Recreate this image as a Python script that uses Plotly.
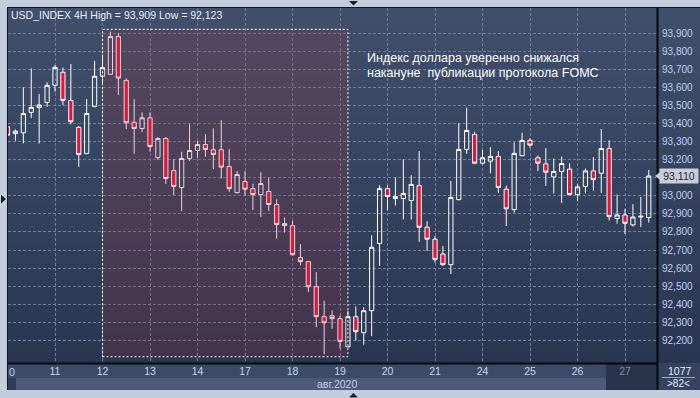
import plotly.graph_objects as go

# ---------------- data ----------------
day_labels = ["10", "11", "12", "13", "14", "17", "18", "19", "20", "21", "24", "25", "26", "27"]
bars_per_day = [6, 6, 6, 6, 6, 6, 6, 6, 6, 6, 6, 6, 6, 4]

open_ = [93.382, 93.345, 93.349, 93.462, 93.490, 93.517, 93.612, 93.684, 93.528, 93.379,
         93.235, 93.495, 93.662, 93.673, 93.882, 93.639, 93.407, 93.373, 93.432, 93.212,
         93.318, 93.140, 93.046, 93.207, 93.251, 93.284, 93.255, 93.255, 93.162, 93.018,
         93.079, 93.040, 93.007, 93.024, 92.952, 92.846, 92.835, 92.658, 92.636, 92.497,
         92.331, 92.336, 92.320, 92.164, 92.331, 92.242, 92.364, 92.736, 93.040, 92.996,
         92.985, 92.974, 93.057, 92.826, 92.760, 92.678, 92.619, 92.979, 93.257, 93.340,
         93.181, 93.192, 93.218, 93.037, 92.924, 93.222, 93.307, 93.211, 93.177, 93.105,
         93.135, 93.148, 93.007, 93.052, 93.138, 93.125, 93.262, 92.874, 92.894, 92.839,
         92.883, 92.880]
high = [93.392, 93.368, 93.601, 93.706, 93.564, 93.628, 93.724, 93.711, 93.730, 93.386,
        93.536, 93.747, 93.780, 93.909, 93.900, 93.650, 93.536, 93.462, 93.462, 93.325,
        93.325, 93.203, 93.244, 93.397, 93.303, 93.342, 93.373, 93.419, 93.259, 93.137,
        93.137, 93.068, 93.131, 93.101, 92.981, 92.880, 92.861, 92.732, 92.640, 92.577,
        92.419, 92.366, 92.338, 92.364, 92.388, 92.384, 92.782, 93.059, 93.059, 93.101,
        93.201, 93.114, 93.248, 92.859, 92.778, 92.721, 93.083, 93.401, 93.488, 93.355,
        93.253, 93.270, 93.248, 93.057, 93.297, 93.349, 93.318, 93.223, 93.264, 93.207,
        93.218, 93.181, 93.066, 93.151, 93.214, 93.370, 93.307, 93.007, 92.928, 92.954,
        92.994, 93.144]
low = [93.330, 93.305, 93.290, 93.432, 93.290, 93.493, 93.577, 93.503, 93.397, 93.161,
       93.229, 93.490, 93.613, 93.670, 93.558, 93.370, 93.233, 93.355, 93.244, 93.200,
       93.065, 93.004, 92.915, 93.194, 93.211, 93.216, 93.148, 93.096, 93.022, 93.013,
       93.000, 92.920, 92.883, 92.917, 92.763, 92.797, 92.671, 92.615, 92.467, 92.273,
       92.123, 92.264, 92.153, 92.160, 92.199, 92.175, 92.223, 92.612, 92.920, 92.946,
       92.869, 92.869, 92.745, 92.695, 92.630, 92.612, 92.567, 92.975, 93.233, 93.175,
       93.174, 93.125, 93.016, 92.833, 92.907, 93.220, 93.266, 93.138, 93.055, 93.013,
       92.961, 93.004, 92.970, 93.013, 93.028, 93.016, 92.863, 92.846, 92.789, 92.830,
       92.828, 92.852]
close = [93.336, 93.358, 93.456, 93.490, 93.503, 93.612, 93.711, 93.528, 93.410, 93.229,
         93.456, 93.662, 93.711, 93.882, 93.652, 93.405, 93.373, 93.432, 93.273, 93.318,
         93.096, 93.052, 93.207, 93.251, 93.284, 93.257, 93.229, 93.159, 93.040, 93.118,
         93.037, 93.007, 93.068, 92.952, 92.841, 92.835, 92.674, 92.636, 92.497, 92.331,
         92.297, 92.320, 92.194, 92.331, 92.248, 92.364, 92.715, 93.040, 92.996, 92.985,
         93.013, 93.063, 92.826, 92.760, 92.647, 92.619, 92.991, 93.257, 93.362, 93.181,
         93.211, 93.218, 93.046, 92.928, 93.235, 93.307, 93.281, 93.181, 93.131, 93.135,
         93.179, 93.007, 93.050, 93.138, 93.090, 93.262, 92.885, 92.894, 92.848, 92.883,
         92.887, 93.110]

price_ticks = [round(92.2 + 0.1 * k, 1) for k in range(18)]
last_price = close[-1]
# the tick label hidden behind the last-price marker is left blank
price_labels = ["" if abs(v - last_price) < 0.03 else "{:.3f}".format(v).replace(".", ",")
                for v in price_ticks]
last_label = "{:.3f}".format(last_price).replace(".", ",")
header = "USD_INDEX 4H High = 93,909 Low = 92,123"
note_1 = "Индекс доллара уверенно снижался"
note_2 = "накануне \u00a0публикации протокола FOMC"
month_label = "авг.2020"
bars_total = "1077"
bars_visible = ">82<"
zone_start, zone_end = 12, 43
zone_low, zone_high = 92.109, 93.922

# ---------------- layout helpers ----------------
W, H = 700, 398
PL, PR, PT, PB = 8, 657, 8, 363


def px(v):
    return (v - PL) / (PR - PL)


def py(v):
    return (PB - v) / (PB - PT)


xs = list(range(len(open_)))
day_start = []
acc = 0
for n in bars_per_day:
    day_start.append(acc)
    acc += n

tick_vals = day_start[1:]
tick_text = day_labels[1:-1] + ["<span style='color:#7d8ba3'>" + day_labels[-1] + "</span>"]

fig = go.Figure()
fig.add_trace(go.Candlestick(
    x=xs, open=open_, high=high, low=low, close=close,
    increasing=dict(line=dict(color="#ffffff", width=1), fillcolor="rgba(0,0,0,0)"),
    decreasing=dict(line=dict(color="#ffffff", width=1), fillcolor="#e5143c"),
    whiskerwidth=0, hoverinfo="skip", showlegend=False,
))

shapes = []
# dark base
shapes.append(dict(type="rect", xref="paper", yref="paper", x0=px(7), x1=px(700), y0=py(390), y1=py(7),
                   fillcolor="#33425e", line=dict(width=0), layer="below"))
# gradient background
n = 36
top_c = (64, 80, 108)
bot_c = (40, 54, 81)
for k in range(n):
    t = (k + 0.5) / n
    c = tuple(int(round(top_c[j] + (bot_c[j] - top_c[j]) * t)) for j in range(3))
    y0 = PT + (PB - PT) * k / n
    y1 = PT + (PB - PT) * (k + 1) / n
    shapes.append(dict(type="rect", xref="paper", yref="paper", x0=px(8), x1=px(700),
                       y0=py(y1) - 0.002, y1=py(y0), fillcolor="rgb(%d,%d,%d)" % c,
                       line=dict(width=0), layer="below"))
# x-axis strips
shapes.append(dict(type="rect", xref="paper", yref="paper", x0=px(8), x1=px(657), y0=py(378), y1=py(363),
                   fillcolor="#3b4a67", line=dict(width=0), layer="below"))
shapes.append(dict(type="rect", xref="paper", yref="paper", x0=px(8), x1=px(657), y0=py(390), y1=py(378),
                   fillcolor="#2f3d58", line=dict(width=0), layer="below"))
shapes.append(dict(type="rect", xref="paper", yref="paper", x0=px(16), x1=px(606), y0=py(390), y1=py(378),
                   fillcolor="#4c5b77", line=dict(width=0), layer="below"))
shapes.append(dict(type="rect", xref="paper", yref="paper", x0=px(606), x1=px(657), y0=py(390), y1=py(364),
                   fillcolor="#28344c", line=dict(width=0), layer="below"))
shapes.append(dict(type="rect", xref="paper", yref="paper", x0=px(657), x1=px(700), y0=py(390), y1=py(363),
                   fillcolor="#34435f", line=dict(width=0), layer="below"))
# separator in bottom-right box
shapes.append(dict(type="line", xref="paper", yref="paper", x0=px(662), x1=px(695), y0=py(377.5), y1=py(377.5),
                   line=dict(color="#9aa8c0", width=1), layer="above"))
# frame lines
shapes.append(dict(type="line", xref="paper", yref="paper", x0=px(7.5), x1=px(700), y0=py(7.5), y1=py(7.5),
                   line=dict(color="#0d1420", width=1), layer="above"))
shapes.append(dict(type="line", xref="paper", yref="paper", x0=px(7.5), x1=px(7.5), y0=py(390), y1=py(7.5),
                   line=dict(color="#0d1420", width=1), layer="above"))
shapes.append(dict(type="line", xref="paper", yref="paper", x0=px(8), x1=px(658), y0=py(363.5), y1=py(363.5),
                   line=dict(color="#05080d", width=2), layer="above"))
shapes.append(dict(type="line", xref="paper", yref="paper", x0=px(657.5), x1=px(657.5), y0=py(390), y1=py(8),
                   line=dict(color="#05080d", width=2), layer="above"))
# frame triangles
shapes.append(dict(type="path", xref="paper", yref="paper",
                   path="M %f %f L %f %f L %f %f Z" % (px(349), py(1), px(358), py(1), px(353.5), py(5.5)),
                   fillcolor="#141c2a", line=dict(width=0), layer="above"))
shapes.append(dict(type="path", xref="paper", yref="paper",
                   path="M %f %f L %f %f L %f %f Z" % (px(349), py(397.5), px(358), py(397.5), px(353.5), py(393)),
                   fillcolor="#141c2a", line=dict(width=0), layer="above"))
shapes.append(dict(type="path", xref="paper", yref="paper",
                   path="M %f %f L %f %f L %f %f Z" % (px(1), py(194.5), px(1), py(203.5), px(6), py(199)),
                   fillcolor="#141c2a", line=dict(width=0), layer="above"))
# highlighted zone
shapes.append(dict(type="rect", xref="x", yref="y", x0=zone_start, x1=zone_end, y0=zone_low, y1=zone_high,
                   fillcolor="rgba(168,47,60,0.2)", line=dict(color="#ffffff", width=1, dash="2px,2px"),
                   layer="above"))
# last price arrow
lp_y = 33.3 + (93.9 - last_price) * 180.6
shapes.append(dict(type="path", xref="paper", yref="paper",
                   path="M %f %f L %f %f L %f %f Z" % (px(655), py(lp_y), px(660), py(lp_y - 4),
                                                     px(660), py(lp_y + 4)),
                   fillcolor="#c9ced6", line=dict(width=0), layer="above"))

annotations = [
    dict(text=header, xref="paper", yref="paper", x=px(9), y=py(15), xanchor="left", yanchor="middle",
         showarrow=False, font=dict(color="#e8eef8", size=10.5, family="Liberation Sans")),
    dict(text=note_1, xref="paper", yref="paper", x=px(365), y=py(58), xanchor="left", yanchor="middle",
         showarrow=False, font=dict(color="#ffffff", size=12.5, family="Liberation Sans")),
    dict(text=note_2, xref="paper", yref="paper", x=px(365), y=py(72.5), xanchor="left", yanchor="middle",
         showarrow=False, font=dict(color="#ffffff", size=12.5, family="Liberation Sans")),
    dict(text="0", xref="paper", yref="paper", x=px(11.5), y=py(372), xanchor="center", yanchor="middle",
         showarrow=False, font=dict(color="#c6d6f2", size=10.5, family="Liberation Sans")),
    dict(text=month_label, xref="paper", yref="paper", x=px(337), y=py(384), xanchor="center", yanchor="middle",
         showarrow=False, font=dict(color="#c6d2e6", size=10.5, family="Liberation Sans")),
    dict(text=bars_total, xref="paper", yref="paper", x=px(679.5), y=py(370.5), xanchor="center", yanchor="middle",
         showarrow=False, font=dict(color="#e6ecf6", size=10.5, family="Liberation Sans")),
    dict(text=bars_visible, xref="paper", yref="paper", x=px(678), y=py(383.5), xanchor="center", yanchor="middle",
         showarrow=False, font=dict(color="#e6ecf6", size=10, family="Liberation Sans")),
    dict(text=last_label, xref="paper", yref="y", x=px(659), y=last_price, xanchor="left", yanchor="middle",
         showarrow=False, bgcolor="#c9ced6", borderpad=1, width=36,
         font=dict(color="#1c2636", size=10.5, family="Liberation Sans")),
]

step = 570 / 72.0
x_left = (PL - 7.5) / step
x_right = (PR - 7.5) / step
y_bottom = 93.9 - (PB - 33.3) / 180.6
y_top = 93.9 + (33.3 - PT) / 180.6

fig.update_layout(
    width=W, height=H,
    margin=dict(l=PL, r=W - PR, t=PT, b=H - PB, pad=0),
    paper_bgcolor="#c2cedb",
    plot_bgcolor="rgba(0,0,0,0)",
    showlegend=False,
    hovermode=False,
    boxgap=0.24,
    shapes=shapes,
    annotations=annotations,
    xaxis=dict(range=[x_left, x_right], tickvals=tick_vals, ticktext=tick_text,
               showgrid=True, gridcolor="#6f7f9c", griddash="3px,2px", gridwidth=1,
               zeroline=False, showline=False, ticks="", rangeslider=dict(visible=False),
               tickfont=dict(color="#c6d6f2", size=10.5, family="Liberation Sans"), fixedrange=True),
    yaxis=dict(range=[y_bottom, y_top], side="right", tickvals=price_ticks, ticktext=price_labels,
               showgrid=True, gridcolor="#6f7f9c", griddash="3px,2px", gridwidth=1,
               zeroline=False, showline=False, ticks="outside", ticklen=2, tickcolor="rgba(0,0,0,0)",
               tickfont=dict(color="#c0d0ee", size=10, family="Liberation Sans"), fixedrange=True),
)

fig.write_html("out.html", config=dict(displayModeBar=False, staticPlot=True))
